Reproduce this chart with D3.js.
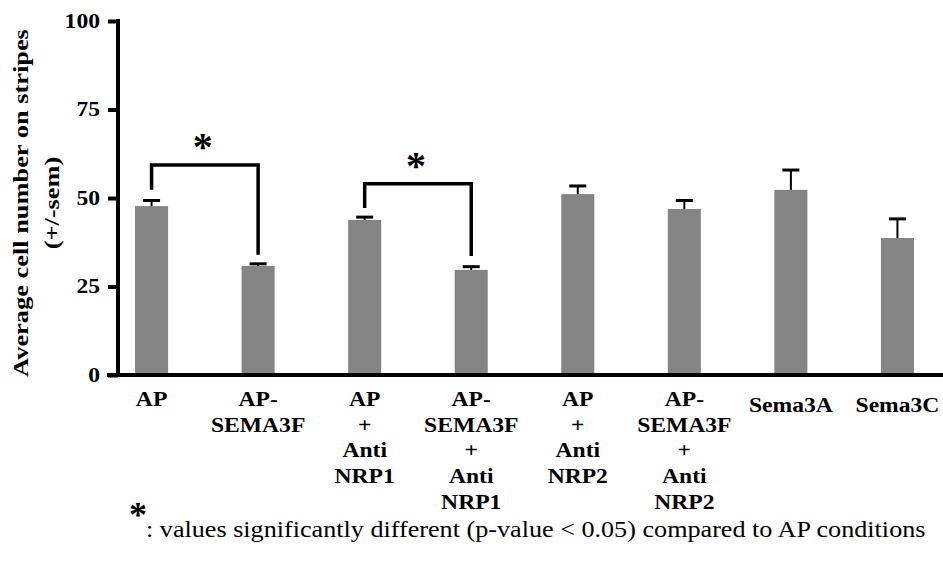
<!DOCTYPE html>
<html>
<head>
<meta charset="utf-8">
<script src="https://cdn.jsdelivr.net/npm/d3@7"></script>
<style>
  html, body { margin: 0; padding: 0; background: #fff; }
  svg { display: block; }
  text { font-family: 'Liberation Serif', 'Times New Roman', serif; fill: #000; }
</style>
</head>
<body>
<svg id="chart"></svg>
<script>
// data
const categories = ['AP', 'AP-SEMA3F', 'AP+AntiNRP1', 'AP-SEMA3F+AntiNRP1',
  'AP+AntiNRP2', 'AP-SEMA3F+AntiNRP2', 'Sema3A', 'Sema3C'];
const labelLines = [
  ['AP'],
  ['AP-', 'SEMA3F'],
  ['AP', '+', 'Anti', 'NRP1'],
  ['AP-', 'SEMA3F', '+', 'Anti', 'NRP1'],
  ['AP', '+', 'Anti', 'NRP2'],
  ['AP-', 'SEMA3F', '+', 'Anti', 'NRP2'],
  ['Sema3A'],
  ['Sema3C']
];
const means = [47.7, 30.8, 43.8, 29.7, 51.1, 46.9, 52.3, 38.7];
const sems = [1.6, 0.6, 0.8, 0.9, 2.3, 2.4, 5.6, 5.4];
const yTicks = [0, 25, 50, 75, 100];
// significance brackets: from, to, left end, top, right end
const brackets = [
  { from: 'AP', to: 'AP-SEMA3F', left: 52.3, top: 59.3, right: 34.0 },
  { from: 'AP+AntiNRP1', to: 'AP-SEMA3F+AntiNRP1', left: 47.2, top: 54.0, right: 33.6 }
];
const yTitle = ['Average cell number on stripes', '(+/-sem)'];
const footnote = ': values significantly different (p-value < 0.05) compared to AP conditions';

const width = 943, height = 563;
const margin = { top: 21, left: 118, bottom: 188 };
const stretch = 1.18; // the original lettering is wider than Times

const svg = d3.select('#chart')
  .attr('width', width)
  .attr('height', height);

const x = d3.scaleBand()
  .domain(categories)
  .range([margin.left, 931])
  .paddingInner(0.69)
  .paddingOuter(0.16);

const y = d3.scaleLinear()
  .domain([0, 100])
  .range([height - margin.bottom, margin.top]);

const cx = d => x(d) + x.bandwidth() / 2;

// bars
svg.append('g')
  .attr('fill', '#848484')
  .selectAll('rect')
  .data(categories)
  .join('rect')
    .attr('x', d => x(d))
    .attr('y', (d, i) => y(means[i]))
    .attr('width', x.bandwidth())
    .attr('height', (d, i) => y(0) - y(means[i]));

// error bars (upper only)
const err = svg.append('g').attr('stroke', '#000');
err.selectAll('line.stem')
  .data(categories)
  .join('line')
    .attr('class', 'stem')
    .attr('stroke-width', 2)
    .attr('x1', cx).attr('x2', cx)
    .attr('y1', (d, i) => y(means[i]))
    .attr('y2', (d, i) => y(means[i] + sems[i]));
err.selectAll('line.cap')
  .data(categories)
  .join('line')
    .attr('class', 'cap')
    .attr('stroke-width', 3)
    .attr('x1', d => cx(d) - 8.5).attr('x2', d => cx(d) + 8.5)
    .attr('y1', (d, i) => y(means[i] + sems[i]))
    .attr('y2', (d, i) => y(means[i] + sems[i]));

// y axis
const yAxis = svg.append('g')
  .attr('transform', `translate(${margin.left},0)`)
  .call(d3.axisLeft(y).tickValues(yTicks).tickSize(10).tickSizeOuter(0));
yAxis.select('.domain').attr('stroke-width', 4).attr('d', `M0,${y(0)}V${y(100) - 2}`);
yAxis.selectAll('.tick line').attr('stroke-width', 4);
yAxis.selectAll('.tick text')
  .attr('x', 0)
  .attr('transform', `translate(-18,0) scale(${stretch},1)`)
  .attr('font-size', 20)
  .attr('font-weight', 'bold')
  .attr('font-family', "'Liberation Serif', serif");

// x axis line
svg.append('line')
  .attr('x1', margin.left - 11).attr('x2', width)
  .attr('y1', y(0)).attr('y2', y(0))
  .attr('stroke', '#000')
  .attr('stroke-width', 4);

// x labels
svg.append('g')
  .attr('font-size', 20)
  .attr('font-weight', 'bold')
  .attr('text-anchor', 'middle')
  .selectAll('text')
  .data(categories)
  .join('text')
    .attr('transform', (d, i) => {
      const ty = labelLines[i].length === 1 && i > 0 ? y(0) + 37 : y(0) + 31;
      return `translate(${cx(d)},${ty}) scale(${stretch},1)`;
    })
    .selectAll('tspan')
    .data((d, i) => labelLines[i])
    .join('tspan')
      .attr('x', 0)
      .attr('dy', (d, j) => j === 0 ? 0 : 25.7)
      .text(d => d);

// y title
svg.append('text')
  .attr('transform', `translate(28,203) rotate(-90) scale(1.2,1)`)
  .attr('text-anchor', 'middle')
  .attr('font-size', 22)
  .attr('font-weight', 'bold')
  .selectAll('tspan')
  .data(yTitle)
  .join('tspan')
    .attr('x', 0)
    .attr('dy', (d, i) => i === 0 ? 0 : 31)
    .text(d => d);

// significance brackets
const br = svg.append('g');
br.selectAll('path')
  .data(brackets)
  .join('path')
    .attr('fill', 'none')
    .attr('stroke', '#000')
    .attr('stroke-width', 3.5)
    .attr('d', b => `M${cx(b.from)},${y(b.left)}V${y(b.top)}H${cx(b.to)}V${y(b.right)}`);
br.selectAll('text')
  .data(brackets)
  .join('text')
    .attr('x', b => (cx(b.from) + cx(b.to)) / 2 - 2)
    .attr('y', b => y(b.top) - 5)
    .attr('text-anchor', 'middle')
    .attr('font-size', 40)
    .attr('font-weight', 'bold')
    .text('*');

// footnote
svg.append('text')
  .attr('x', 129)
  .attr('y', 527)
  .attr('font-size', 36)
  .attr('font-weight', 'bold')
  .text('*');
svg.append('text')
  .attr('transform', `translate(146,537) scale(1.09,1)`)
  .attr('font-size', 24)
  .text(footnote);
</script>
</body>
</html>
